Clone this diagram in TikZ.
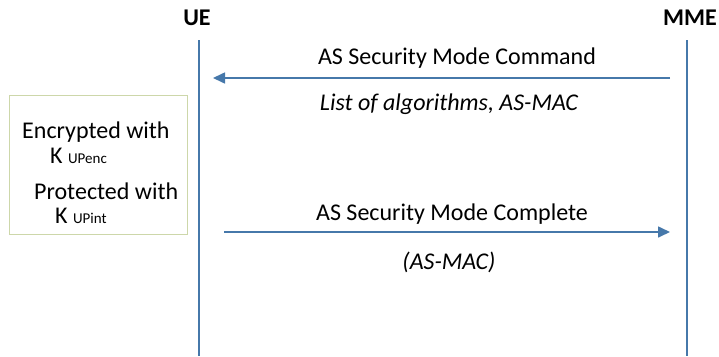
\documentclass[tikz,border=0pt]{standalone}
\usepackage{fontspec}
\setmainfont{Carlito}
\definecolor{msgblue}{RGB}{70, 120, 170}
\definecolor{boxgreen}{RGB}{205, 215, 170}
\usetikzlibrary{arrows.meta, positioning}

\begin{document}
\begin{tikzpicture}[x=1pt, y=-1pt, font=\fontsize{24}{28}\selectfont,
    lifeline/.style={msgblue, line width=1.6pt},
    msg/.style={msgblue, line width=1.6pt, -{Triangle[length=12pt, width=11pt]}}]
  \useasboundingbox (0, 0) rectangle (719, 356);

  % Entities and lifelines
  \node[font=\fontsize{24}{28}\selectfont\bfseries] (ue) at (197, 18) {UE};
  \node[font=\fontsize{24}{28}\selectfont\bfseries] (mme) at (690, 18) {MME};
  \coordinate (uetop) at (199, 40);
  \coordinate (uebot) at (199, 356);
  \coordinate (mmetop) at (687, 40);
  \coordinate (mmebot) at (687, 356);
  \draw[lifeline] (uetop) -- (uebot);
  \draw[lifeline] (mmetop) -- (mmebot);

  % Command: MME to UE
  \coordinate (cmdfrom) at (670, 78);
  \coordinate (cmdto) at (213, 78);
  \draw[msg] (cmdfrom) -- (cmdto);
  \node (cmd) at (457, 58) {AS Security Mode Command};
  \node[font=\fontsize{24}{28}\selectfont\itshape] (cmdarg) at (449, 104) {List of algorithms, AS-MAC};

  % Complete: UE to MME
  \coordinate (cplfrom) at (224, 232);
  \coordinate (cplto) at (670, 232);
  \draw[msg] (cplfrom) -- (cplto);
  \node (cpl) at (452, 214) {AS Security Mode Complete};
  \node[font=\fontsize{24}{28}\selectfont\itshape] (cplarg) at (449, 262) {(AS-MAC)};

  % Key box
  \draw[boxgreen, line width=1pt] (9, 95) rectangle (187, 234);
  \node[anchor=base west, inner sep=0pt] (enc) at (22, 138) {Encrypted with};
  \node[anchor=base west, inner sep=0pt] (kenc) at (50, 163) {K \fontsize{15}{18}\selectfont UPenc};
  \node[anchor=base west, inner sep=0pt] (prot) at (34, 199) {Protected with};
  \node[anchor=base west, inner sep=0pt] (kint) at (55, 223) {K \fontsize{15}{18}\selectfont UPint};
\end{tikzpicture}
\end{document}
